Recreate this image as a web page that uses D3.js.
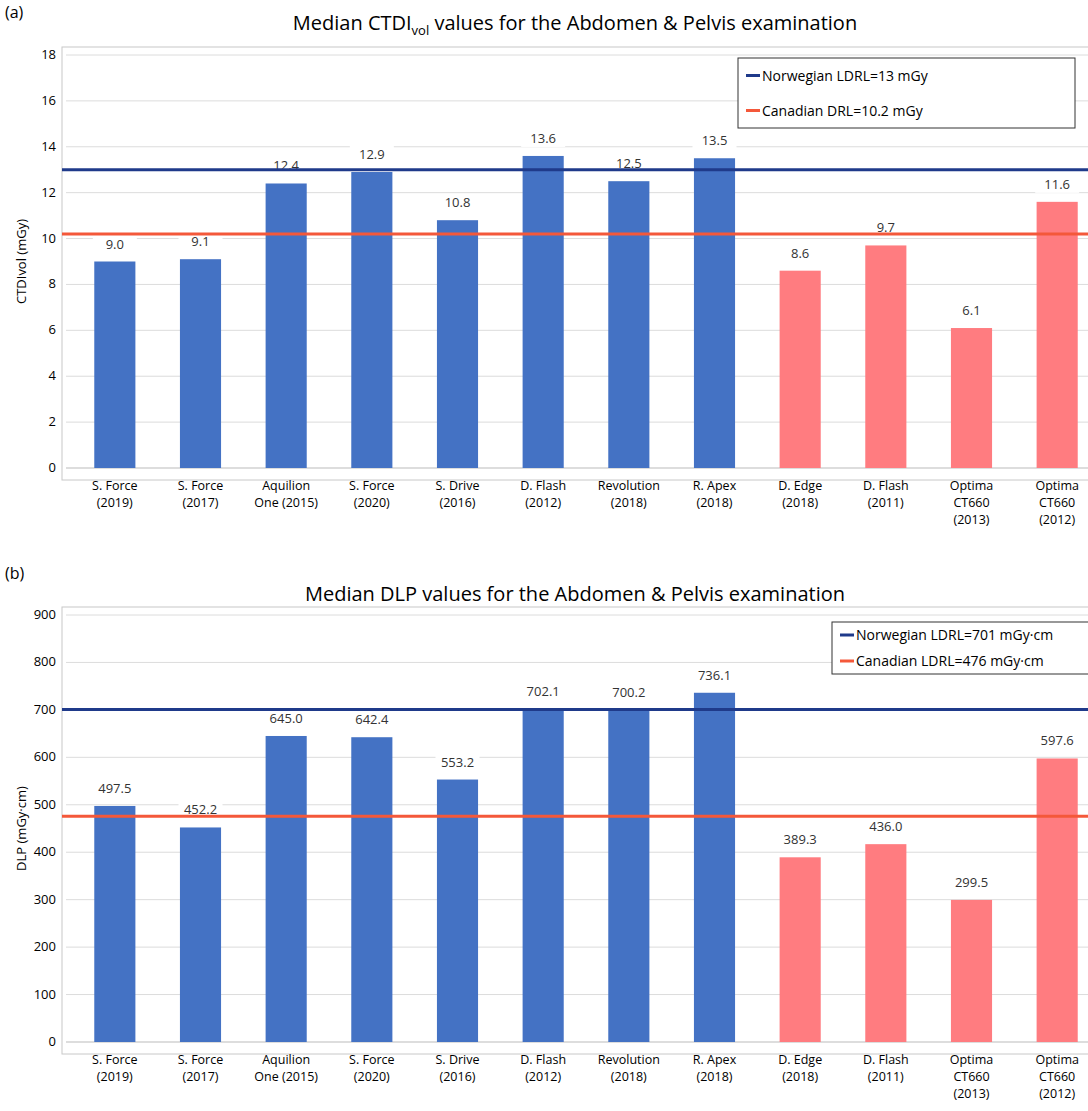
<!DOCTYPE html><html><head><meta charset="utf-8">
<script src="https://cdn.jsdelivr.net/npm/d3@7"></script>
<style>body{margin:0;background:#fff}text{font-family:"Open Sans",sans-serif}</style></head><body>
<svg id="c" width="1088" height="1111"></svg>
<script>
const categories=[["S. Force","(2019)"],["S. Force","(2017)"],["Aquilion","One (2015)"],["S. Force","(2020)"],["S. Drive","(2016)"],["D. Flash","(2012)"],["Revolution","(2018)"],["R. Apex","(2018)"],["D. Edge","(2018)"],["D. Flash","(2011)"],["Optima","CT660","(2013)"],["Optima","CT660","(2012)"]];
const groups=["b","b","b","b","b","b","b","b","r","r","r","r"];
const ctdiValues=[9.0,9.1,12.4,12.9,10.8,13.6,12.5,13.5,8.6,9.7,6.1,11.6];
const ctdiLabels=["9.0","9.1","12.4","12.9","10.8","13.6","12.5","13.5","8.6","9.7","6.1","11.6"];
const dlpValues=[497.5,452.2,645.0,642.4,553.2,702.1,700.2,736.1,389.3,417,299.5,597.6];
const dlpLabels=["497.5","452.2","645.0","642.4","553.2","702.1","700.2","736.1","389.3","436.0","299.5","597.6"];
const ctdiTicks=[0,2,4,6,8,10,12,14,16,18];
const dlpTicks=[0,100,200,300,400,500,600,700,800,900];
const ctdiRefs=[{v:13,name:"Norwegian LDRL=13 mGy",c:"#1f3a8a"},{v:10.2,name:"Canadian DRL=10.2 mGy",c:"#f4583a"}];
const dlpRefs=[{v:701,name:"Norwegian LDRL=701 mGy·cm",c:"#1f3a8a"},{v:476,name:"Canadian LDRL=476 mGy·cm",c:"#f4583a"}];
const svg=d3.select("#c");
const colors={b:"#4472c4",r:"#ff7c80"};
function chart(o){
  const g=svg.append("g");
  g.append("text").attr("x",5).attr("y",o.tag[1]).attr("font-size",16).text(o.tag[0]);
  const t=g.append("text").attr("x",575).attr("y",o.titleY).attr("text-anchor","middle").attr("font-size",20);
  o.title(t);
  const x=d3.scaleBand().domain(d3.range(12)).range([72,1100]).paddingInner(0.52).paddingOuter(0.26);
  const y=d3.scaleLinear().domain([0,o.max]).range([o.y0,o.y1]);
  g.append("rect").attr("x",62).attr("y",o.y1-8).attr("width",1040).attr("height",o.y0-o.y1+20).attr("fill","none").attr("stroke","#c8c8c8");
  o.ticks.forEach(v=>{
    g.append("line").attr("x1",66).attr("x2",1088).attr("y1",y(v)).attr("y2",y(v)).attr("stroke",v===0?"#bbb":"#dcdcdc");
    g.append("text").attr("x",56).attr("y",y(v)+4).attr("text-anchor","end").attr("font-size",13).text(v);});
  g.append("text").attr("transform",`translate(26,${(o.y0+o.y1)/2}) rotate(-90)`).attr("text-anchor","middle").attr("font-size",13).text(o.ylab);
  o.values.forEach((v,i)=>{
    g.append("rect").attr("x",x(i)).attr("y",y(v)).attr("width",x.bandwidth()).attr("height",o.y0-y(v)).attr("fill",colors[groups[i]]);
    categories[i].forEach((s,k)=>g.append("text").attr("x",x(i)+x.bandwidth()/2).attr("y",o.y0+22+k*17).attr("text-anchor","middle").attr("font-size",12.5).text(s));
    const cx=x(i)+x.bandwidth()/2, ty=y(v)-13;
    g.append("rect").attr("x",cx-22).attr("y",ty-13).attr("width",44).attr("height",17).attr("fill","#fff");
    g.append("text").attr("x",cx).attr("y",ty).attr("text-anchor","middle").attr("font-size",13).attr("fill","#333").text(o.labels[i]);
  });
  o.refs.forEach(r=>g.append("line").attr("x1",62).attr("x2",1088).attr("y1",y(r.v)).attr("y2",y(r.v)).attr("stroke",r.c).attr("stroke-width",3));
  const L=o.leg;
  g.append("rect").attr("x",L.x).attr("y",L.y).attr("width",L.w).attr("height",L.h).attr("fill","#fff").attr("stroke","#333");
  o.refs.forEach((r,k)=>{const yy=L.y+L.h*(k+0.5)/2;
    g.append("line").attr("x1",L.x+8).attr("x2",L.x+22).attr("y1",yy).attr("y2",yy).attr("stroke",r.c).attr("stroke-width",3);
    g.append("text").attr("x",L.x+24).attr("y",yy+5).attr("font-size",14).text(r.name);});
}
chart({tag:["(a)",18],titleY:30,title:t=>{t.append("tspan").text("Median CTDI");t.append("tspan").attr("font-size",13).attr("dy",5).text("vol");t.append("tspan").attr("dy",-5).text(" values for the Abdomen & Pelvis examination");},
  max:18,y0:468,y1:55,ticks:ctdiTicks,ylab:"CTDIvol (mGy)",values:ctdiValues,labels:ctdiLabels,refs:ctdiRefs,leg:{x:738,y:58,w:337,h:70}});
chart({tag:["(b)",579],titleY:601,title:t=>t.text("Median DLP values for the Abdomen & Pelvis examination"),
  max:900,y0:1042,y1:615,ticks:dlpTicks,ylab:"DLP (mGy·cm)",values:dlpValues,labels:dlpLabels,refs:dlpRefs,leg:{x:832,y:622,w:260,h:52}});
</script></body></html>
